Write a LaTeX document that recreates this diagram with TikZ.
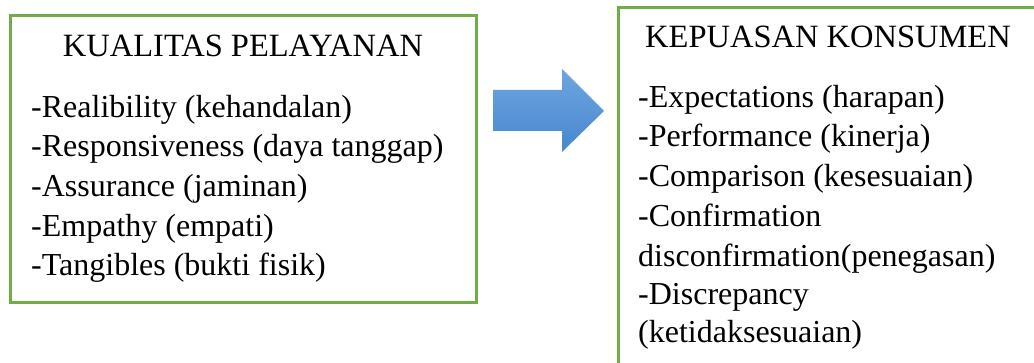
\documentclass[tikz,border=0pt]{standalone}
\usepackage{fontspec}
\setmainfont{Liberation Serif}
\newfontfamily\tnr{Liberation Serif}
\definecolor{boxgreen}{HTML}{70AD47}
\definecolor{arrowtop}{HTML}{6FA5DF}
\definecolor{arrowbot}{HTML}{4787CF}
\begin{document}
\begin{tikzpicture}[x=1pt,y=1pt,
  frame/.style={draw=boxgreen,line width=3pt},
  txt/.style={anchor=base west,inner sep=0pt,font=\tnr\fontsize{32}{40}\selectfont},
  ttl/.style={anchor=base,inner sep=0pt,font=\tnr\fontsize{32.5}{40}\selectfont}]
\useasboundingbox (0,0) rectangle (1034,363);
\clip (0,0) rectangle (1034,363);
% left box
\draw[frame] (10,60) rectangle (476,347);
\node[ttl] (lt) at (243,306) {KUALITAS PELAYANAN};
\node[txt] (l1) at (31,245) {-Realibility (kehandalan)};
\node[txt] (l2) at (31,206) {-Responsiveness (daya tanggap)};
\node[txt] (l3) at (31,166) {-Assurance (jaminan)};
\node[txt] (l4) at (31,126) {-Empathy (empati)};
\node[txt] (l5) at (31,87) {-Tangibles (bukti fisik)};
% arrow
\shade[top color=arrowtop,bottom color=arrowbot]
  (493,273) -- (562,273) -- (562,294) -- (604,252) -- (562,211) -- (562,232) -- (493,232) -- cycle;
% right box
\draw[frame] (618,-20) -- (618,355) -- (1050,355);
\node[ttl] (rt) at (828,315) {KEPUASAN KONSUMEN};
\node[txt] (r1) at (638,255) {-Expectations (harapan)};
\node[txt] (r2) at (638,216) {-Performance (kinerja)};
\node[txt] (r3) at (638,176) {-Comparison (kesesuaian)};
\node[txt] (r4) at (638,136) {-Confirmation};
\node[txt] (r5) at (638,96) {disconfirmation(penegasan)};
\node[txt] (r6) at (638,58) {-Discrepancy};
\node[txt] (r7) at (638,20) {(ketidaksesuaian)};
\end{tikzpicture}
\end{document}
